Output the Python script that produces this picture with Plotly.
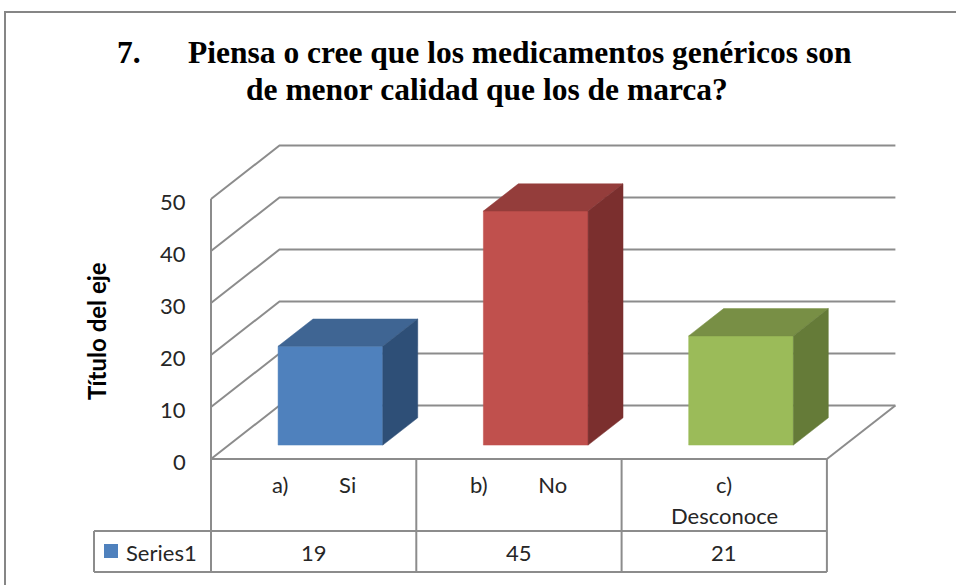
import plotly.graph_objects as go

# ---------------- data ----------------
category_prefix = ["a)", "b)", "c)"]
category_names = ["Si", "No", "Desconoce"]
values = [19, 45, 21]
series_name = "Series1"
y_ticks = [0, 10, 20, 30, 40, 50]
title_number = "7."
title_line1 = "Piensa o cree que los medicamentos genéricos son"
title_line2 = "de menor calidad que los de marca?"
axis_title = "Título del eje"

front_colors = ["#4F81BD", "#C0504D", "#9BBB59"]
top_colors = ["#3F6593", "#943D3B", "#788F45"]
side_colors = ["#2E4F77", "#7B2F2E", "#657B38"]

# ---------------- geometry (layout) ----------------
W, H = 956, 585
X0_PX = 211.0      # pixel x of the front value axis
Y0_PX = 459.0      # pixel y of value 0 on the front plane
CAT_PX = 205.3     # pixels per category
VAL_PX = 5.2       # pixels per value unit
DEPTH_DX = 68.5 / CAT_PX   # depth offset in category units
DEPTH_DY = 53.5 / VAL_PX   # depth offset in value units
Y_MAX = 50
BAR_X0, BAR_X1 = 0.24, 0.75   # bar extent inside a category
BAR_D0, BAR_D1 = 0.26, 0.77   # bar extent in depth

x_range = [-X0_PX / CAT_PX, (W - X0_PX) / CAT_PX]
y_range = [-(H - Y0_PX) / VAL_PX, Y0_PX / VAL_PX]


def proj(X, v, d):
    return X + d * DEPTH_DX, v + d * DEPTH_DY


def vpx(py):
    """pixel y -> value units"""
    return (Y0_PX - py) / VAL_PX


def xpx(px):
    return (px - X0_PX) / CAT_PX


GRID = "#8C8C8C"
TXT = "#262626"
n = len(values)

fig = go.Figure()

# ---------- walls: gridlines ----------
gx, gy = [], []
for t in y_ticks:
    for (X, v, d) in [(0, t, 0), (0, t, 1), (n, t, 1)]:
        a, b = proj(X, v, d)
        gx.append(a)
        gy.append(b)
    gx.append(None)
    gy.append(None)
# floor right edge
for (X, v, d) in [(n, 0, 0), (n, 0, 1)]:
    a, b = proj(X, v, d)
    gx.append(a)
    gy.append(b)
gx.append(None)
gy.append(None)
fig.add_trace(go.Scatter(x=gx, y=gy, mode="lines", line=dict(color=GRID, width=2),
                         hoverinfo="skip", showlegend=False))

# ---------- bars ----------
for i, val in enumerate(values):
    x0, x1 = i + BAR_X0, i + BAR_X1
    faces = [
        ([(x0, 0, BAR_D0), (x1, 0, BAR_D0), (x1, val, BAR_D0), (x0, val, BAR_D0)], front_colors[i]),
        ([(x0, val, BAR_D0), (x1, val, BAR_D0), (x1, val, BAR_D1), (x0, val, BAR_D1)], top_colors[i]),
        ([(x1, 0, BAR_D0), (x1, 0, BAR_D1), (x1, val, BAR_D1), (x1, val, BAR_D0)], side_colors[i]),
    ]
    for pts, col in faces:
        xs, ys = [], []
        for p in pts + [pts[0]]:
            a, b = proj(*p)
            xs.append(a)
            ys.append(b)
        fig.add_trace(go.Scatter(x=xs, y=ys, mode="lines", fill="toself", fillcolor=col,
                                 line=dict(color=col, width=0.5), hoverinfo="skip",
                                 showlegend=False))

# ---------- data table ----------
row1 = vpx(531)
row2 = vpx(572)
left = xpx(94)
tx, ty = [], []


def seg(a, b):
    tx.extend([a[0], b[0], None])
    ty.extend([a[1], b[1], None])


seg((0, Y_MAX), (0, row2))            # front value axis, continues into the table
seg((0, 0), (n, 0))                   # floor front edge / table top
seg((left, row1), (n, row1))
seg((left, row2), (n, row2))
seg((left, row1), (left, row2))
for k in range(1, n + 1):
    seg((k, 0), (k, row2))
fig.add_trace(go.Scatter(x=tx, y=ty, mode="lines", line=dict(color=GRID, width=2),
                         hoverinfo="skip", showlegend=False))

annotations = []
FONT = "Lato"
for i in range(n):
    cx = i + 0.5
    label = category_prefix[i] + "\u00a0" * 9 + category_names[i]
    if len(category_names[i]) > 6:
        annotations.append(dict(x=cx, y=vpx(484), text=category_prefix[i], showarrow=False,
                                font=dict(family=FONT, size=22, color=TXT)))
        annotations.append(dict(x=cx, y=vpx(515), text=category_names[i], showarrow=False,
                                font=dict(family=FONT, size=22, color=TXT)))
    else:
        annotations.append(dict(x=cx, y=vpx(484), text=label, showarrow=False,
                                font=dict(family=FONT, size=22, color=TXT)))
    annotations.append(dict(x=cx, y=vpx(552), text=str(values[i]), showarrow=False,
                            font=dict(family=FONT, size=22, color=TXT)))

annotations.append(dict(x=xpx(124), y=vpx(552), text=series_name, showarrow=False, xanchor="left",
                        font=dict(family=FONT, size=22, color=TXT)))

# value tick labels
for t in y_ticks:
    annotations.append(dict(x=xpx(188), y=t - 2 / VAL_PX, text=str(t), showarrow=False, xanchor="right",
                            font=dict(family=FONT, size=22, color=TXT)))

# axis title
annotations.append(dict(x=xpx(96), y=vpx(331), text="<b>" + axis_title + "</b>", showarrow=False,
                        textangle=-90, font=dict(family=FONT, size=24, color="#000000")))

# chart title
TF = dict(family="'Liberation Serif', 'Times New Roman', Times, serif", size=31.5, color="#000000")
annotations.append(dict(xref="paper", yref="paper", x=115 / W, y=1 - 52 / H, xanchor="left",
                        yanchor="middle", text="<b>" + title_number + "</b>", showarrow=False, font=TF))
annotations.append(dict(xref="paper", yref="paper", x=186 / W, y=1 - 52 / H, xanchor="left",
                        yanchor="middle", text="<b>" + title_line1 + "</b>", showarrow=False, font=TF))
annotations.append(dict(xref="paper", yref="paper", x=244 / W, y=1 - 89 / H, xanchor="left",
                        yanchor="middle", text="<b>" + title_line2 + "</b>", showarrow=False, font=TF))

shapes = [
    # legend key
    dict(type="rect", xref="x", yref="y", x0=xpx(104), x1=xpx(118), y0=vpx(544), y1=vpx(558),
         fillcolor=front_colors[0], line=dict(width=0)),
    # chart area border
    dict(type="rect", xref="paper", yref="paper", x0=5 / W, y0=-0.05, x1=1.05, y1=1 - 12 / H,
         line=dict(color="#868686", width=2), fillcolor="rgba(0,0,0,0)"),
]

fig.update_layout(
    width=W, height=H,
    margin=dict(l=0, r=0, t=0, b=0),
    paper_bgcolor="white", plot_bgcolor="white",
    xaxis=dict(range=x_range, visible=False, fixedrange=True),
    yaxis=dict(range=y_range, visible=False, fixedrange=True),
    annotations=annotations,
    shapes=shapes,
    showlegend=False,
)

fig.write_html("out.html", config={"displayModeBar": False},
               post_script="document.body.style.margin='0';document.body.style.overflow='hidden';")
